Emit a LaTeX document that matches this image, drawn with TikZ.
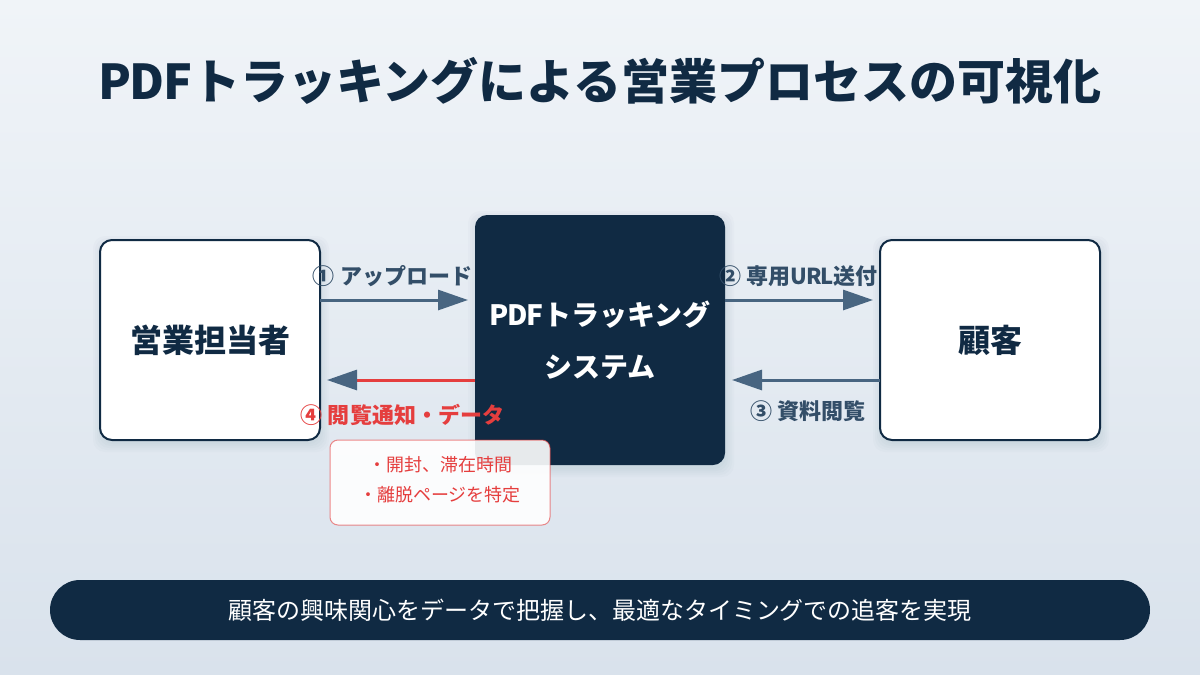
\documentclass[tikz,border=0pt]{standalone}
\usepackage{fontspec}
\setmainfont{Noto Sans CJK JP}
\usetikzlibrary{arrows.meta}
\definecolor{navy}{HTML}{102A43}
\definecolor{slate}{HTML}{486581}
\definecolor{labelc}{HTML}{334E68}
\definecolor{redc}{HTML}{E53E3E}
\definecolor{bgtop}{HTML}{F0F4F8}
\definecolor{bgbot}{HTML}{D9E2EC}
\newcommand{\fsz}[2]{\fontsize{#1}{#2}\selectfont}
\newcommand{\ltn}[1]{{\addfontfeature{LetterSpace=-4}#1}}
\tikzset{
  x=1pt,y=-1pt,
  whitebox/.style={draw=navy,line width=2pt,fill=white,rounded corners=12pt,minimum width=220pt,minimum height=200pt,inner sep=0pt,outer sep=0pt,text=navy,font=\fsz{32}{32}\bfseries},
  darkbox/.style={fill=navy,rounded corners=12pt,minimum width=250pt,minimum height=250pt,inner sep=0pt,outer sep=0pt,text=white,align=center,font=\fsz{28}{52}\bfseries},
  flow/.style={line width=3pt,draw=slate,-{Triangle[length=30pt,width=20pt,color=slate,sep=0pt]}},
  steplabel/.style={inner sep=0pt,text=labelc,font=\fsz{22}{22}\bfseries},
  softshadow/.style={fill=navy,opacity=0.016,rounded corners=#1pt}
}
\begin{document}
\begin{tikzpicture}
\useasboundingbox (0,0) rectangle (1200,675);
\shade[top color=bgtop,bottom color=bgbot] (0,0) rectangle (1200,675);
\node[inner sep=0pt,text=navy,font=\fsz{48}{48}\bfseries] (title) at (600,80.5) {\ltn{PDF}トラッキングによる営業プロセスの可視化};
\foreach \s in {0,2,...,8}{
  \fill[softshadow=12] (101-\s,244-\s) rectangle (321+\s,444+\s);
  \fill[softshadow=12] (476-\s,219-\s) rectangle (726+\s,469+\s);
  \fill[softshadow=12] (881-\s,244-\s) rectangle (1101+\s,444+\s);
}
\node[whitebox] (sales) at (210,340) {営業担当者};
\node[darkbox] (system) at (600,340) {\ltn{PDF}トラッキング\\システム};
\node[whitebox] (client) at (990,340) {顧客};
\coordinate (up) at (0,300);
\coordinate (down) at (0,380);
\draw[flow,shorten >=7pt] (sales.east|-up) -- (system.west|-up);
\draw[flow,shorten >=7pt] (system.east|-up) -- (client.west|-up);
\draw[flow,shorten >=7pt] (client.west|-down) -- (system.east|-down);
\draw[flow,draw=redc,shorten >=7pt] (system.west|-down) -- (sales.east|-down);
\node[steplabel] (l1) at (392.5,276) {① アップロード};
\node[steplabel] (l2) at (798.5,276) {② 専用\ltn{URL}送付};
\node[steplabel] (l3) at (808,411) {③ 資料閲覧};
\node[steplabel,text=redc] (l4) at (402.5,415) {④ 閲覧通知・データ};
\node[draw=redc,draw opacity=0.6,line width=1pt,fill=white,fill opacity=0.9,rounded corners=8pt,minimum width=220pt,minimum height=85pt,inner sep=0pt] (note) at (440,482.5) {};
\node[inner sep=0pt,text=redc,align=center,font=\fsz{18}{30}] (notetext) at (440,480) {・開封、滞在時間\\・離脱ページを特定};
\node[fill=navy,rounded corners=30pt,minimum width=1100pt,minimum height=60pt,inner sep=0pt,text=white,font=\fsz{24}{24}] (summary) at (600,610) {顧客の興味関心をデータで把握し、最適なタイミングでの追客を実現};
\end{tikzpicture}
\end{document}
